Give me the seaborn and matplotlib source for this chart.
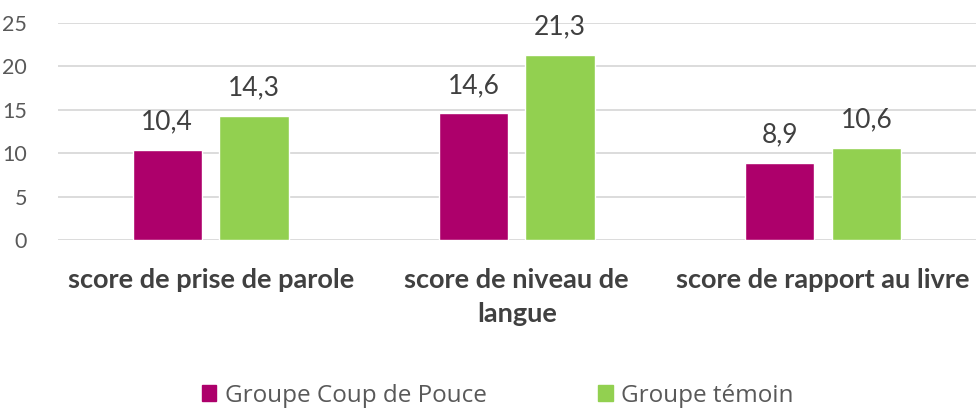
import pandas as pd
import matplotlib.pyplot as plt
import seaborn as sns

# Values
categories = ["score de prise de parole", "score de niveau de\nlangue", "score de rapport au livre"]
groups = ["Groupe Coup de Pouce", "Groupe témoin"]
coup_de_pouce = [10.4, 14.6, 8.9]
temoin = [14.3, 21.3, 10.6]
colors = ["#AD006B", "#92D050"]

data = pd.DataFrame({
    "categorie": categories * 2,
    "groupe": [groups[0]] * 3 + [groups[1]] * 3,
    "score": coup_de_pouce + temoin,
})

sns.set_style("white")
plt.rcParams["font.family"] = ["Lato", "DejaVu Sans"]

fig = plt.figure(figsize=(9.76, 4.09), dpi=100)
ax = fig.add_axes([0.059, 0.413, 0.941, 0.531])

sns.barplot(data=data, x="categorie", y="score", hue="groupe", order=categories,
            hue_order=groups, palette=colors, width=0.567, gap=0.2, saturation=1,
            legend=False, ax=ax)

for cont in ax.containers:
    ax.bar_label(cont, labels=[f"{v:.1f}".replace(".", ",") for v in cont.datavalues],
                 padding=11, fontsize=19, color="#404040")

ax.set_ylim(0, 25)
ax.set_yticks(range(0, 26, 5))
ax.set_xlim(-0.5, 2.5)
ax.yaxis.grid(True, color="#D9D9D9", linewidth=1.3)
ax.set_axisbelow(True)
for s in ax.spines.values():
    s.set_visible(False)
ax.tick_params(axis="y", labelsize=15.5, labelcolor="#595959", length=0, pad=22)
ax.tick_params(axis="x", labelsize=19.5, labelcolor="#404040", length=0, pad=20)
for lbl in ax.get_xticklabels():
    lbl.set_fontweight("bold")
    lbl.set_linespacing(1.5)
ax.set_xlabel("")
ax.set_ylabel("")

handles = [plt.Rectangle((0, 0), 1, 1, color=c) for c in colors]
fig.legend(handles, groups, loc="lower center", bbox_to_anchor=(0.51, -0.05), ncol=2,
           frameon=False, handlelength=0.6, handleheight=0.6,
           handletextpad=0.35, columnspacing=4.6, labelcolor="#595959",
           prop={"family": ["Open Sans", "DejaVu Sans"], "size": 17.5})

fig.savefig("out.png", dpi=100)
